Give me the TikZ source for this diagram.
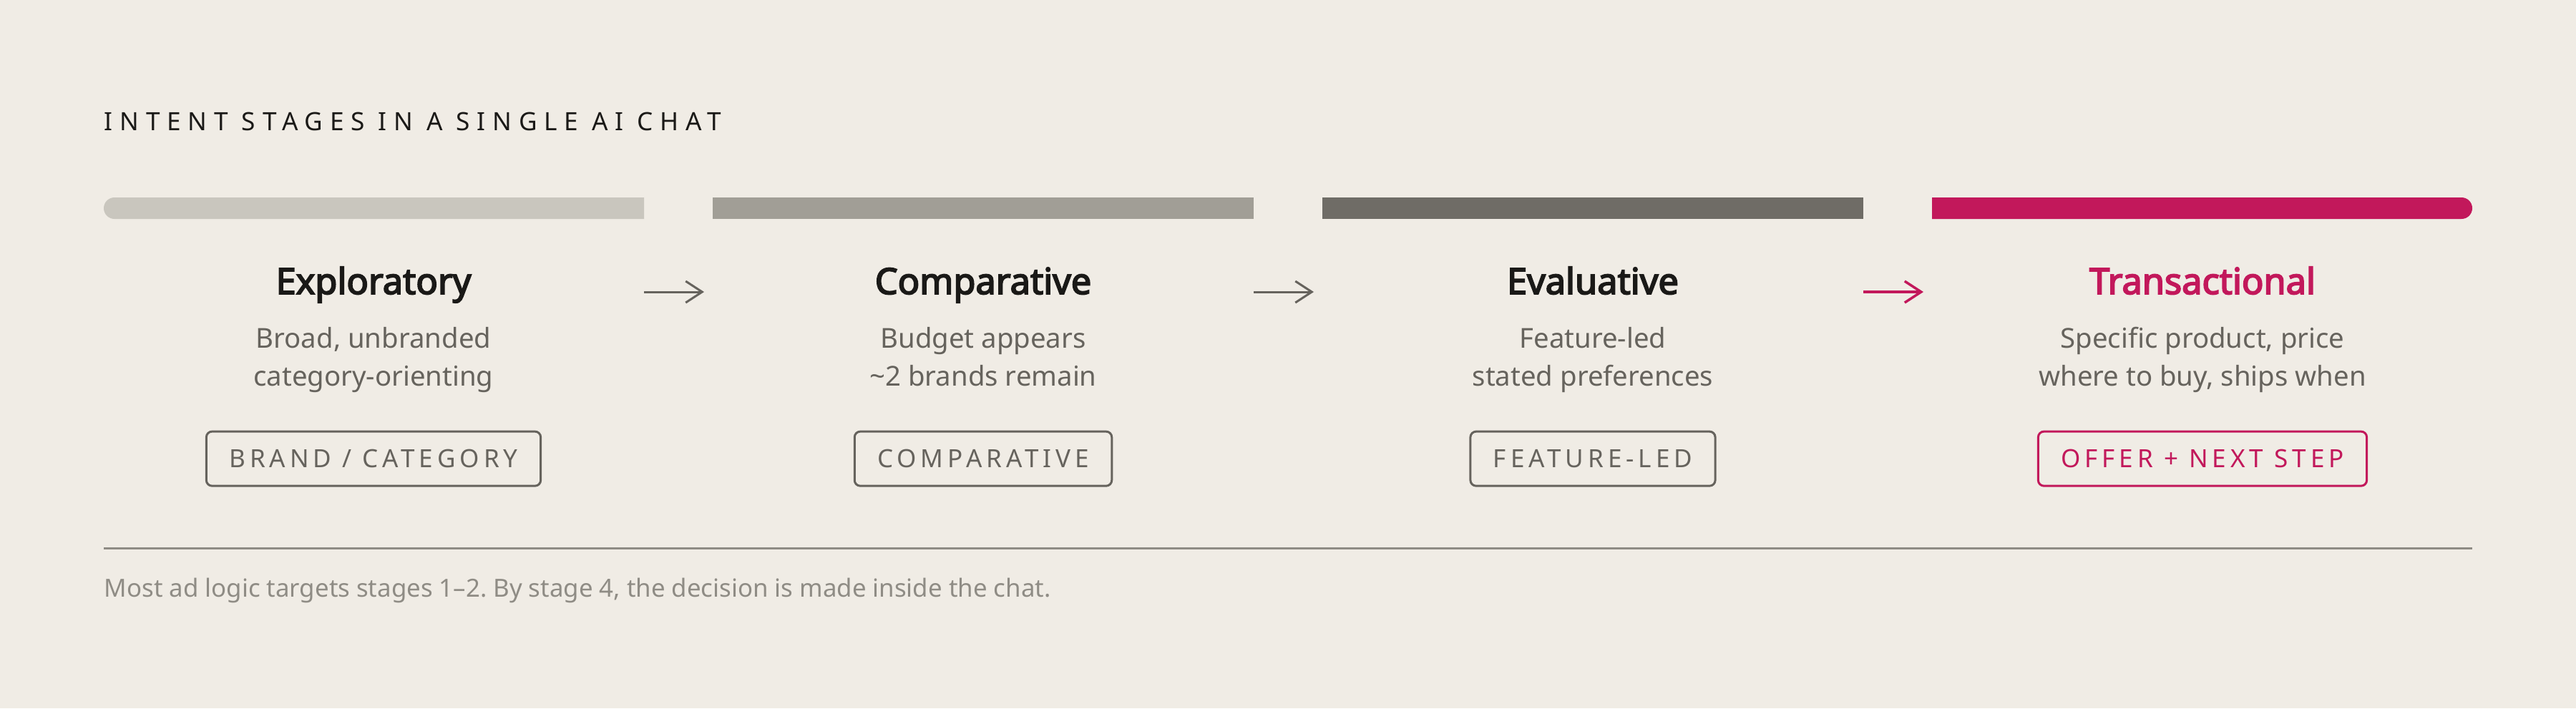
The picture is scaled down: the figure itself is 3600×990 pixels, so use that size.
\documentclass[tikz,border=0pt]{standalone}
\usepackage{fontspec}
\setmainfont{Noto Sans}[AutoFakeBold=3.6]
\usepackage{xcolor}
\usepackage{tikz}
\usetikzlibrary{arrows.meta}
\frenchspacing
\definecolor{paper}{HTML}{F0ECE5}
\definecolor{barone}{HTML}{C9C6BE}
\definecolor{bartwo}{HTML}{A19E96}
\definecolor{barthree}{HTML}{6F6C66}
\definecolor{crimson}{HTML}{C2185B}
\definecolor{ink}{HTML}{1A1917}
\definecolor{slate}{HTML}{66635D}
\definecolor{mist}{HTML}{8F8C85}
\tikzstyle{heading} = [anchor=base west, inner sep=0, text=ink, font=\fontsize{10}{12}\selectfont\addfontfeature{LetterSpace=28}]
\tikzstyle{stagename} = [inner sep=0, text height=0.36cm, text depth=0cm, text=ink, font=\fontsize{14.35}{17}\selectfont\bfseries]
\tikzstyle{stagenote} = [inner sep=0, align=center, text height=0.81cm, text depth=0cm, text=slate, font=\fontsize{10.9}{15.08}\selectfont]
\tikzstyle{stagetag} = [rectangle, rounded corners=0.08cm, draw=slate, line width=0.03cm, minimum height=0.76cm, inner xsep=0.32cm, inner ysep=0, text height=0.25cm, text depth=0cm, text=slate, font=\fontsize{9.96}{12}\selectfont\addfontfeature{LetterSpace=17}]
\tikzstyle{footnote} = [anchor=base west, inner sep=0, text=mist, font=\fontsize{9.9}{12}\selectfont]
\tikzstyle{arrow} = [line width=0.03cm, draw=slate, -{Straight Barb[length=0.23cm, width=0.30cm]}]

\begin{document}
\begin{tikzpicture}[x=0.01cm, y=-0.01cm, node distance=8.515cm]
\fill[paper] (0,0) rectangle (3600,990);
\useasboundingbox (0,0) rectangle (3600,990);

\node (head) [heading] at (145,182) {INTENT STAGES IN A SINGLE AI CHAT};

% progress bars
\fill[barone] (900,276) -- (160,276) arc[start angle=270, end angle=90, radius=15] -- (900,306) -- cycle;
\fill[bartwo] (996,276) rectangle (1752,306);
\fill[barthree] (1848,276) rectangle (2604,306);
\fill[crimson] (2700,276) -- (3440,276) arc[start angle=270, end angle=450, radius=15] -- (2700,306) -- cycle;

\node (s1) [stagename] at (522,393) {Exploratory};
\node (s2) [stagename, right of=s1] {Comparative};
\node (s3) [stagename, right of=s2] {Evaluative};
\node (s4) [stagename, right of=s3, text=crimson] {Transactional};

\node (n1) [stagenote, node distance=1.055cm, below of=s1] {Broad, unbranded\\category-orienting};
\node (n2) [stagenote, node distance=1.055cm, below of=s2] {Budget appears\\\textasciitilde 2 brands remain};
\node (n3) [stagenote, node distance=1.055cm, below of=s3] {Feature-led\\stated preferences};
\node (n4) [stagenote, node distance=1.055cm, below of=s4] {Specific product, price\\where to buy, ships when};

\node (g1) [stagetag, node distance=2.48cm, below of=s1] {BRAND / CATEGORY};
\node (g2) [stagetag, node distance=2.48cm, below of=s2] {COMPARATIVE};
\node (g3) [stagetag, node distance=2.48cm, below of=s3] {FEATURE-LED};
\node (g4) [stagetag, node distance=2.48cm, below of=s4, draw=crimson, text=crimson] {OFFER + NEXT STEP};

\coordinate (a1) at (900,408);
\coordinate (b1) at (984,408);
\coordinate (a2) at (1752,408);
\coordinate (b2) at (1836,408);
\coordinate (a3) at (2604,408);
\coordinate (b3) at (2688,408);
\draw[arrow] (a1) -- (b1);
\draw[arrow] (a2) -- (b2);
\draw[arrow, draw=crimson, line width=0.035cm] (a3) -- (b3);

\coordinate (r1) at (145,766);
\coordinate (r2) at (3455,766);
\draw[mist, line width=0.03cm] (r1) -- (r2);
\node (foot) [footnote] at (145,834) {Most ad logic targets stages 1–2. By stage 4, the decision is made inside the chat.};

\end{tikzpicture}
\end{document}
